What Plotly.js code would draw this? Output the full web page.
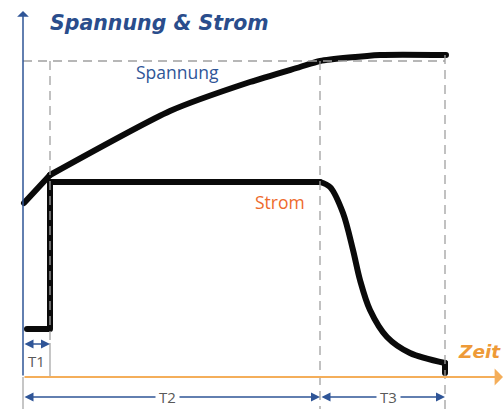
<!DOCTYPE html>
<html>
<head>
<meta charset="utf-8">
<script src="https://cdn.plot.ly/plotly-3.0.1.min.js"></script>
<style>
html,body{margin:0;padding:0;background:#fff;}
#chart{width:504px;height:409px;}
.scatterlayer path.js-line{stroke-linecap:round !important;stroke-linejoin:round !important;}
</style>
</head>
<body>
<div id="chart"></div>
<script>
// Schematic values (time units / arbitrary value units, origin at the axes crossing)
const voltKneeT = [1, 27];
const voltKneeV = [174, 202];
const voltRiseT = [27, 147, 227, 277, 297, 357, 423];
const voltRiseV = [202, 266, 295, 310, 316, 322, 322];

const currStepT = [4, 27, 27, 297];
const currStepV = [48, 48, 195, 195];
const currDecayT = [297, 307, 320, 330, 337, 347, 364, 387, 422];
const currDecayV = [195, 190, 164, 127, 97, 67, 40, 24, 14];
const currTailT = [422, 422];
const currTailV = [14, 4];

// phase boundaries
const tT1 = 27, tT2 = 297, tT3 = 422;
const vRef = 316, vTop = 322;
const phaseLabels = ["T1", "T2", "T3"];
const titleText = "Spannung & Strom";
const xLabel = "Zeit";
const voltLabel = "Spannung";
const currLabel = "Strom";

const BLUE = "#2F5597", TBLUE = "#2A4D8C", ORANGE_T = "#EE6A2C", ORANGE_Z = "#EE9A38",
      ORANGE_AX = "#F4AE5A", GRAY = "#A0A0A0", TXT = "#595959";

const lineStyle = {color: "#0a0a0a", width: 6};
const traces = [
  {x: voltKneeT, y: voltKneeV, mode: "lines", line: Object.assign({}, lineStyle), hoverinfo: "skip"},
  {x: voltRiseT, y: voltRiseV, mode: "lines", line: Object.assign({shape: "spline", smoothing: 0.6}, lineStyle), hoverinfo: "skip"},
  {x: currStepT, y: currStepV, mode: "lines", line: Object.assign({}, lineStyle), hoverinfo: "skip"},
  {x: currDecayT, y: currDecayV, mode: "lines", line: Object.assign({shape: "spline", smoothing: 0.9}, lineStyle), hoverinfo: "skip"},
  {x: currTailT, y: currTailV, mode: "lines", line: Object.assign({}, lineStyle), hoverinfo: "skip"}
];

const dash = {color: GRAY, width: 1.3, dash: "9px,6px"};
const shapes = [
  {type: "line", xref: "x", yref: "y", x0: 0, x1: tT3, y0: vRef, y1: vRef, line: dash, layer: "above"},
  {type: "line", xref: "x", yref: "y", x0: tT1, x1: tT1, y0: vRef, y1: 34, line: dash, layer: "above"},
  {type: "line", xref: "x", yref: "y", x0: tT1, x1: tT1, y0: 34, y1: 0, line: {color: GRAY, width: 1.2}, layer: "above"},
  {type: "line", xref: "x", yref: "y", x0: tT2, x1: tT2, y0: vRef, y1: -32, line: dash, layer: "above"},
  {type: "line", xref: "x", yref: "y", x0: tT3, x1: tT3, y0: vTop, y1: -32, line: dash, layer: "above"},
  {type: "line", xref: "x", yref: "y", x0: 0, x1: 0, y0: 0, y1: -32, line: {color: GRAY, width: 1.2}, layer: "above"}
];

function arrow(x0, y0, x1, y1, color, width, head, size, both) {
  return {x: x1, y: y1, ax: x0, ay: y0, xref: "x", yref: "y", axref: "x", ayref: "y",
    text: "", showarrow: true, arrowhead: head, startarrowhead: head, arrowsize: size, startarrowsize: size,
    arrowwidth: width, arrowcolor: color, arrowside: both ? "end+start" : "end", standoff: 0, startstandoff: 0};
}
function label(x, y, txt, size, color, opts) {
  return Object.assign({x: x, y: y, xref: "x", yref: "y", text: txt, showarrow: false,
    font: {family: "Open Sans, sans-serif", size: size, color: color}, xanchor: "center", yanchor: "middle"}, opts || {});
}

const annotations = [
  arrow(0, 0, 0, 366, BLUE, 1.5, 1, 1.3, false),
  arrow(0, 0, 480, 0, ORANGE_AX, 2, 1, 1.4, false),
  arrow(0, 33, tT1, 33, BLUE, 1.5, 2, 1.2, true),
  arrow(0, -20, tT2, -20, BLUE, 1.5, 2, 1.2, true),
  arrow(tT2, -20, tT3, -20, BLUE, 1.5, 2, 1.2, true),
  label(13, 16, phaseLabels[0], 15, TXT),
  label(144, -20, phaseLabels[1], 15, TXT, {bgcolor: "#ffffff", borderpad: 3}),
  label(365, -20, phaseLabels[2], 15, TXT, {bgcolor: "#ffffff", borderpad: 3}),
  label(25, 354, "<b><i>" + titleText + "</i></b>", 20.5, TBLUE, {xanchor: "left", font: {family: "DejaVu Sans, sans-serif", size: 20.5, color: TBLUE}}),
  label(433, 26, "<b><i>" + xLabel + "</i></b>", 18.5, ORANGE_Z, {xanchor: "left", font: {family: "DejaVu Sans, sans-serif", size: 18.5, color: ORANGE_Z}}),
  label(154, 305, voltLabel, 17.5, BLUE),
  label(257, 175, currLabel, 17.5, ORANGE_T)
];

const layout = {
  width: 504, height: 409,
  margin: {l: 0, r: 0, t: 0, b: 0, pad: 0},
  paper_bgcolor: "#ffffff", plot_bgcolor: "#ffffff",
  showlegend: false,
  xaxis: {range: [-23, 481], visible: false, fixedrange: true},
  yaxis: {range: [-32, 377], visible: false, fixedrange: true},
  shapes: shapes,
  annotations: annotations
};

Plotly.newPlot("chart", traces, layout, {staticPlot: true, displayModeBar: false});
</script>
</body>
</html>
